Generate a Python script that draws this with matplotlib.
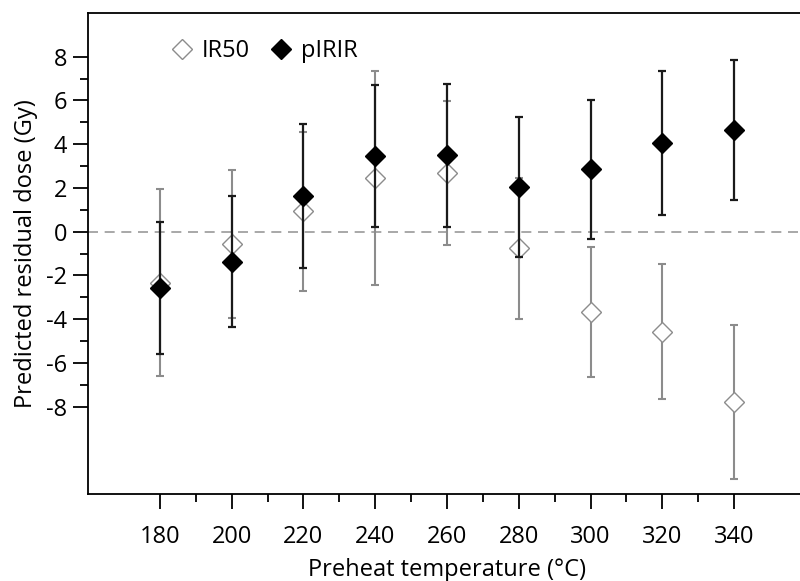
import matplotlib
matplotlib.use("Agg")
import matplotlib.pyplot as plt
from matplotlib.ticker import FixedLocator

# preheat temperatures (deg C)
temps = [180, 200, 220, 240, 260, 280, 300, 320, 340]

# IR50 predicted residual dose (Gy) and error
ir50 = [-2.33, -0.58, 0.93, 2.44, 2.68, -0.76, -3.66, -4.57, -7.77]
ir50_err = [4.27, 3.38, 3.65, 4.90, 3.30, 3.22, 2.97, 3.07, 3.52]

# pIRIR predicted residual dose (Gy) and error
pirir = [-2.59, -1.37, 1.63, 3.46, 3.50, 2.06, 2.85, 4.04, 4.65]
pirir_err = [3.02, 3.00, 3.30, 3.24, 3.27, 3.20, 3.17, 3.30, 3.20]

y_ticks = [-8, -6, -4, -2, 0, 2, 4, 6, 8]
y_minor = [-7, -5, -3, -1, 1, 3, 5, 7]
x_minor = [190, 210, 230, 250, 270, 290, 310, 330]

plt.rcParams['font.family'] = ['Open Sans', 'DejaVu Sans']
plt.rcParams['axes.unicode_minus'] = False

fig = plt.figure(figsize=(8, 5.81), dpi=100)
ax = fig.add_axes([0.11, 0.1497, 0.8975, 0.8279])

ax.axhline(0, color='#999999', lw=1.2, ls=(0, (6, 4)), zorder=0)

# IR50: open grey diamonds
ax.errorbar(temps, ir50, yerr=ir50_err, fmt='none', ecolor='#8c8c8c',
            elinewidth=1.5, capsize=3.2, capthick=1.5, zorder=1)
ax.plot(temps, ir50, ls='none', marker='D', ms=10.5, mfc='white',
        mec='#8c8c8c', mew=1.0, zorder=2, label='IR50')

# pIRIR: filled black diamonds
ax.errorbar(temps, pirir, yerr=pirir_err, fmt='none', ecolor='#1a1a1a',
            elinewidth=1.6, capsize=3.2, capthick=1.6, zorder=3)
ax.plot(temps, pirir, ls='none', marker='D', ms=10.5, mfc='black',
        mec='black', mew=1.0, zorder=4, label='pIRIR')

ax.set_xlim(160, 360)
ax.set_ylim(-12, 10)

ax.set_xticks(temps)
ax.xaxis.set_minor_locator(FixedLocator(x_minor))
ax.set_yticks(y_ticks)
ax.yaxis.set_minor_locator(FixedLocator(y_minor))

ax.tick_params(axis='both', which='major', direction='out', length=11,
               width=1.3, labelsize=17, colors='black')
ax.tick_params(axis='both', which='minor', direction='out', length=5.5,
               width=1.3)
ax.tick_params(axis='x', which='major', pad=11)
ax.tick_params(axis='y', which='major', pad=4)

for s in ax.spines.values():
    s.set_linewidth(1.3)

ax.set_xlabel('Preheat temperature (°C)', fontsize=17, labelpad=7)
ax.set_ylabel('Predicted residual dose (Gy)', fontsize=17, labelpad=6)

ax.legend(loc='upper left', bbox_to_anchor=(0.085, 0.99), ncol=2,
          frameon=False, fontsize=17, handletextpad=0.35, columnspacing=0.8,
          handlelength=1.0)

fig.savefig('out.png', dpi=100)
